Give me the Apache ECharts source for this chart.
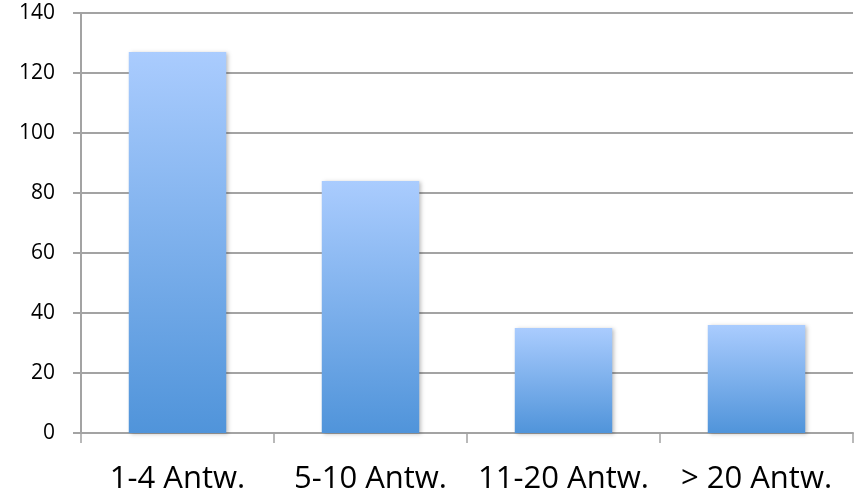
<!DOCTYPE html>
<html>
<head>
<meta charset="utf-8">
<script src="https://cdn.jsdelivr.net/npm/echarts@6/dist/echarts.min.js"></script>
<style>
  html, body { margin: 0; padding: 0; background: #fff; }
  #chart { width: 856px; height: 496px; }
</style>
</head>
<body>
<div id="chart"></div>
<script>
// Antworten-Gruppen und Anzahl
const categories = ['1-4 Antw.', '5-10 Antw.', '11-20 Antw.', '> 20 Antw.'];
const counts = [127, 84, 35, 36];
const yTicks = { min: 0, max: 140, interval: 20 };

const chart = echarts.init(document.getElementById('chart'));
chart.setOption({
  animation: false,
  grid: { left: 81, right: 3, top: 13, bottom: 63 },
  xAxis: {
    type: 'category',
    data: categories,
    axisLine: { lineStyle: { color: '#a3a3a3', width: 2 } },
    axisTick: { show: true, interval: 0, length: 10, lineStyle: { color: '#a3a3a3', width: 1.5 } },
    axisLabel: {
      interval: 0,
      hideOverlap: false,
      fontFamily: 'Open Sans',
      fontSize: 31,
      color: '#000',
      margin: 31
    }
  },
  yAxis: {
    type: 'value',
    min: yTicks.min,
    max: yTicks.max,
    interval: yTicks.interval,
    axisLine: { show: true, lineStyle: { color: '#a3a3a3', width: 2 } },
    axisTick: { show: true, length: 8, lineStyle: { color: '#a3a3a3', width: 2 } },
    splitLine: { lineStyle: { color: '#a3a3a3', width: 2 } },
    axisLabel: {
      fontFamily: 'Open Sans',
      fontSize: 21,
      color: '#000',
      margin: 26
    }
  },
  series: [{
    type: 'bar',
    data: counts,
    barWidth: '50.5%',
    itemStyle: {
      color: new echarts.graphic.LinearGradient(0, 0, 0, 1, [
        { offset: 0, color: '#aaccfe' },
        { offset: 1, color: '#5094da' }
      ]),
      shadowColor: 'rgba(0,0,0,0.25)',
      shadowBlur: 4,
      shadowOffsetX: 2,
      shadowOffsetY: 1
    }
  }]
});
</script>
</body>
</html>
